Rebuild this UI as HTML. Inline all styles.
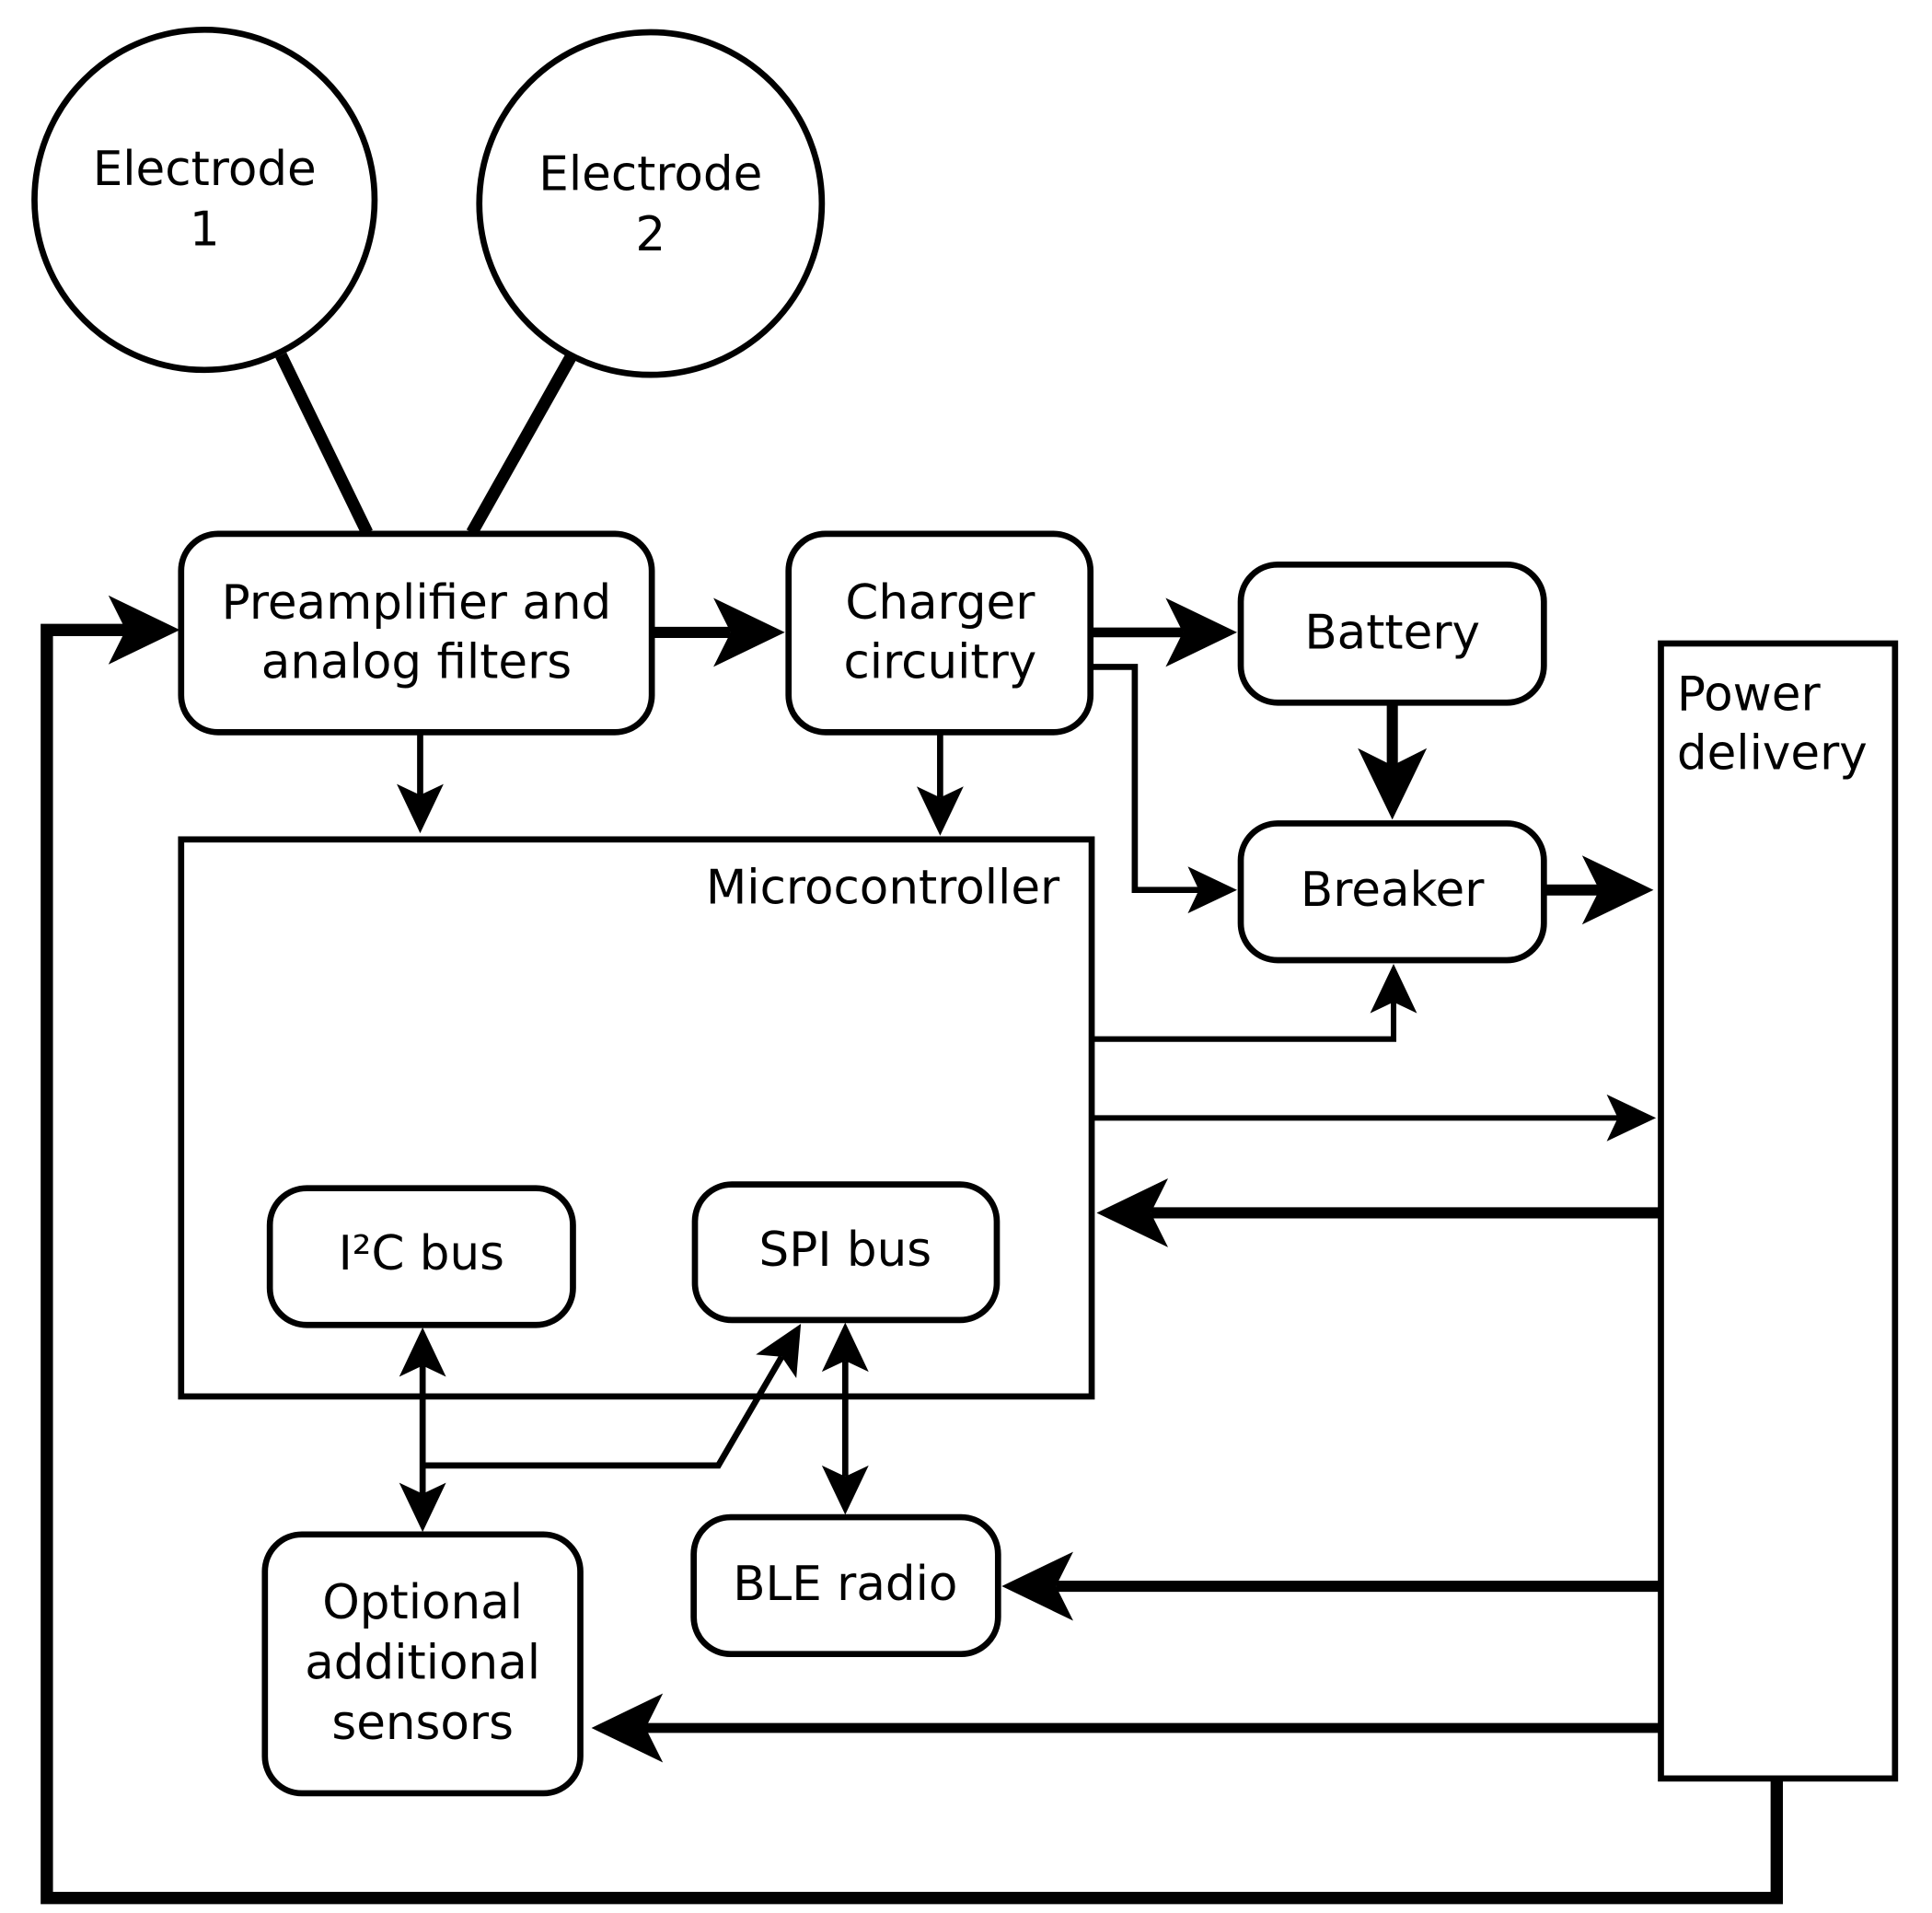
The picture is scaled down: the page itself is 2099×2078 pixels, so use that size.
<!DOCTYPE html>
<html><head><meta charset="utf-8"><style>
html,body{margin:0;padding:0;background:#fff;}
svg{display:block;}
text{font-family:"DejaVu Sans","Liberation Sans",sans-serif;font-size:38.5px;fill:#000;}
</style></head><body>
<svg width="2099" height="2078" viewBox="0 0 1568 1552" xmlns="http://www.w3.org/2000/svg">
<defs>
<marker id="s" markerUnits="userSpaceOnUse" viewBox="-5 -22 45 44" refX="0" refY="0" markerWidth="45" markerHeight="44" orient="auto-start-reverse" overflow="visible">
<path d="M31,0 L-9,-19 L0,0 L-9,19 Z" fill="#000"/>
</marker>
<marker id="b" markerUnits="userSpaceOnUse" viewBox="-16 -32 64 64" refX="0" refY="0" markerWidth="64" markerHeight="64" orient="auto-start-reverse" overflow="visible">
<path d="M44,0 L-14,-28 L0,0 L-14,28 Z" fill="#000"/>
</marker>
</defs>
<g fill="none" stroke="#000">
<line x1="228" y1="288" x2="298" y2="432" stroke-width="10"/>
<line x1="463" y1="290" x2="383" y2="432" stroke-width="10"/>
<circle cx="166" cy="162" r="138" stroke-width="5" fill="#fff"/>
<circle cx="528" cy="165" r="139" stroke-width="5" fill="#fff"/>
<rect x="147" y="433" width="382" height="161" rx="30" stroke-width="5"/>
<rect x="640" y="433" width="245" height="161" rx="30" stroke-width="5"/>
<rect x="1007" y="458" width="246" height="112" rx="30" stroke-width="5"/>
<rect x="1007" y="668" width="246" height="111" rx="30" stroke-width="5"/>
<rect x="1348" y="522" width="190" height="921" stroke-width="5"/>
<rect x="147" y="681" width="739" height="452" stroke-width="5"/>
<rect x="219" y="964" width="246" height="111" rx="30" stroke-width="5"/>
<rect x="564" y="961" width="245" height="110" rx="30" stroke-width="5"/>
<rect x="563" y="1231" width="247" height="111" rx="30" stroke-width="5"/>
<rect x="215" y="1245" width="256" height="210" rx="30" stroke-width="5"/>
<line x1="529" y1="513" x2="593" y2="513" stroke-width="9" marker-end="url(#b)"/>
<line x1="885" y1="513" x2="960" y2="513" stroke-width="8" marker-end="url(#b)"/>
<polyline points="885,541 921,541 921,722 973,722" stroke-width="5" marker-end="url(#s)"/>
<line x1="1130" y1="570" x2="1130" y2="621" stroke-width="9" marker-end="url(#b)"/>
<line x1="1253" y1="722" x2="1298" y2="722" stroke-width="9" marker-end="url(#b)"/>
<line x1="341" y1="594" x2="341" y2="645" stroke-width="5" marker-end="url(#s)"/>
<line x1="763" y1="594" x2="763" y2="647" stroke-width="5" marker-end="url(#s)"/>
<polyline points="886,843 1131,843 1131,813" stroke-width="4.5" marker-end="url(#s)"/>
<line x1="886" y1="907" x2="1313" y2="907" stroke-width="4.5" marker-end="url(#s)"/>
<line x1="1347" y1="984" x2="934" y2="984" stroke-width="9" marker-end="url(#b)"/>
<line x1="1347" y1="1287" x2="857" y2="1287" stroke-width="9" marker-end="url(#b)"/>
<line x1="1347" y1="1402" x2="524" y2="1402" stroke-width="8" marker-end="url(#b)"/>
<polyline points="1442,1443 1442,1540 38,1540 38,511 102,511" stroke-width="10" marker-end="url(#b)"/>
<line x1="343" y1="1108" x2="343" y2="1212" stroke-width="5" marker-start="url(#s)" marker-end="url(#s)"/>
<polyline points="343,1189 583,1189 634.4,1100.8" stroke-width="5" marker-end="url(#s)"/>
<line x1="686" y1="1104" x2="686" y2="1198" stroke-width="5" marker-start="url(#s)" marker-end="url(#s)"/>
</g>
<g text-anchor="middle">
<text x="166" y="150">Electrode</text>
<text x="166" y="199">1</text>
<text x="528" y="154">Electrode</text>
<text x="528" y="203">2</text>
<text x="338" y="502">Preamplifier and</text>
<text x="338" y="550">analog filters</text>
<text x="763" y="502">Charger</text>
<text x="763" y="550">circuitry</text>
<text x="1130" y="526">Battery</text>
<text x="1130" y="735">Breaker</text>
<text x="342" y="1030">I²C bus</text>
<text x="686" y="1027">SPI bus</text>
<text x="686" y="1298">BLE radio</text>
<text x="343" y="1313">Optional</text>
<text x="343" y="1362">additional</text>
<text x="343" y="1411">sensors</text>
</g>
<text x="860" y="733" text-anchor="end">Microcontroller</text>
<text x="1361" y="576">Power</text>
<text x="1361" y="624">delivery</text>
</svg>
</body></html>
